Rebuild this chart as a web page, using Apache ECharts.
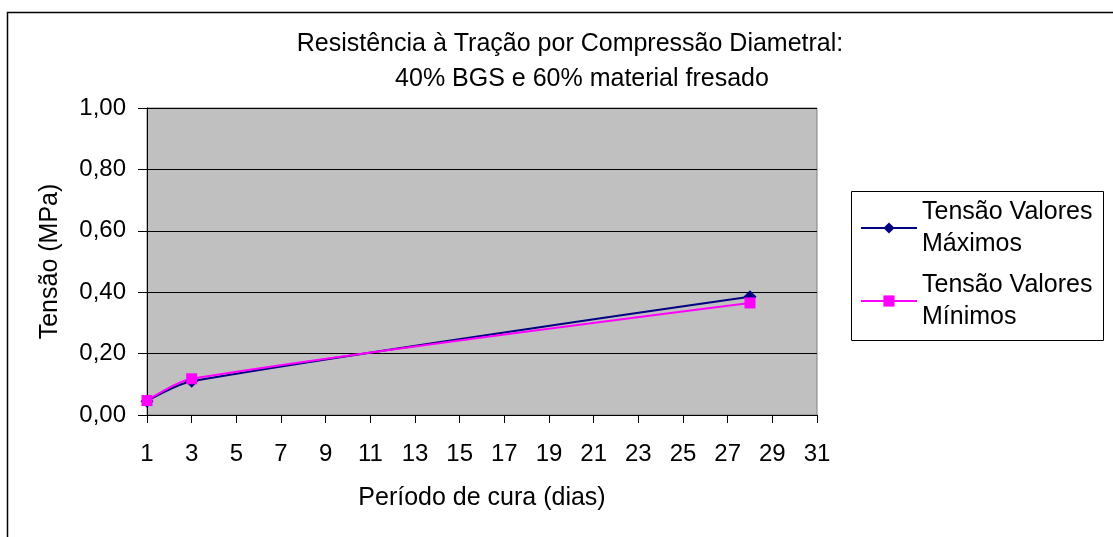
<!DOCTYPE html>
<html>
<head>
<meta charset="utf-8">
<script src="https://cdn.jsdelivr.net/npm/echarts@6/dist/echarts.min.js"></script>
<style>
  html, body { margin: 0; padding: 0; background: #fff; }
  #main { width: 1113px; height: 537px; }
</style>
</head>
<body>
<div id="main"></div>
<script>
// dias de cura e tensões
var dias = [1, 3, 28];
var tensaoMax = [0.045, 0.11, 0.385];
var tensaoMin = [0.047, 0.118, 0.365];

var fonte = 'Liberation Sans, Arial, sans-serif';
var chart = echarts.init(document.getElementById('main'));

var tituloEstilo = { fontFamily: fonte, fontSize: 25, fontWeight: 'normal', color: '#000' };

var option = {
  animation: false,
  backgroundColor: '#fff',
  title: [
    { text: 'Resistência à Tração por Compressão Diametral:', left: 570, top: 32, padding: 0, textAlign: 'center', textStyle: tituloEstilo },
    { text: '40% BGS e 60% material fresado', left: 582, top: 67, padding: 0, textAlign: 'center', textStyle: tituloEstilo }
  ],
  graphic: [
    { // moldura externa
      type: 'rect',
      shape: { x: 7.5, y: 12.5, width: 1120, height: 540 },
      style: { fill: 'none', stroke: '#000', lineWidth: 1.5 },
      silent: true
    },
    { // caixa da legenda
      type: 'rect',
      shape: { x: 851.5, y: 191.5, width: 252, height: 149 },
      style: { fill: 'none', stroke: '#000', lineWidth: 1 },
      silent: true
    }
  ],
  grid: { left: 147, top: 108, width: 670, height: 307, show: true, backgroundColor: '#C0C0C0', borderColor: '#808080', borderWidth: 1 },
  legend: {
    left: 860, top: 180,
    orient: 'vertical',
    padding: 0,
    itemGap: -23,
    itemWidth: 56, itemHeight: 14,
    textStyle: { fontFamily: fonte, fontSize: 25, color: '#000', lineHeight: 32, padding: [32, 0, 0, 0] },
    formatter: function (n) { return n.replace('Valores ', 'Valores\n'); },
    data: ['Tensão Valores Máximos', 'Tensão Valores Mínimos']
  },
  xAxis: {
    type: 'value', min: 1, max: 31, interval: 2,
    name: 'Período de cura (dias)', nameLocation: 'middle', nameGap: 71,
    nameTextStyle: { fontFamily: fonte, fontSize: 25, color: '#000' },
    axisLine: { lineStyle: { color: '#000' } },
    axisTick: { show: true, length: 8, lineStyle: { color: '#000' } },
    axisLabel: { fontFamily: fonte, fontSize: 24, color: '#000', margin: 27 },
    splitLine: { show: false }
  },
  yAxis: {
    type: 'value', min: 0, max: 1, interval: 0.2,
    name: 'Tensão (MPa)', nameLocation: 'middle', nameGap: 84,
    nameTextStyle: { fontFamily: fonte, fontSize: 25, color: '#000' },
    axisLine: { show: true, lineStyle: { color: '#000' } },
    axisTick: { show: true, length: 9, lineStyle: { color: '#000' } },
    axisLabel: { fontFamily: fonte, fontSize: 24, color: '#000', margin: 21,
      formatter: function (v) { return v.toFixed(2).replace('.', ','); } },
    splitLine: { lineStyle: { color: '#000', width: 1 } }
  },
  series: [
    {
      name: 'Tensão Valores Máximos', type: 'line', smooth: 0.3,
      data: dias.map(function (d, i) { return [d, tensaoMax[i]]; }),
      symbol: 'diamond', symbolSize: 13,
      itemStyle: { color: '#000080' },
      lineStyle: { color: '#000080', width: 2 }
    },
    {
      name: 'Tensão Valores Mínimos', type: 'line', smooth: 0.3,
      data: dias.map(function (d, i) { return [d, tensaoMin[i]]; }),
      symbol: 'rect', symbolSize: 11,
      itemStyle: { color: '#FF00FF' },
      lineStyle: { color: '#FF00FF', width: 2 }
    }
  ]
};
chart.setOption(option);
</script>
</body>
</html>
